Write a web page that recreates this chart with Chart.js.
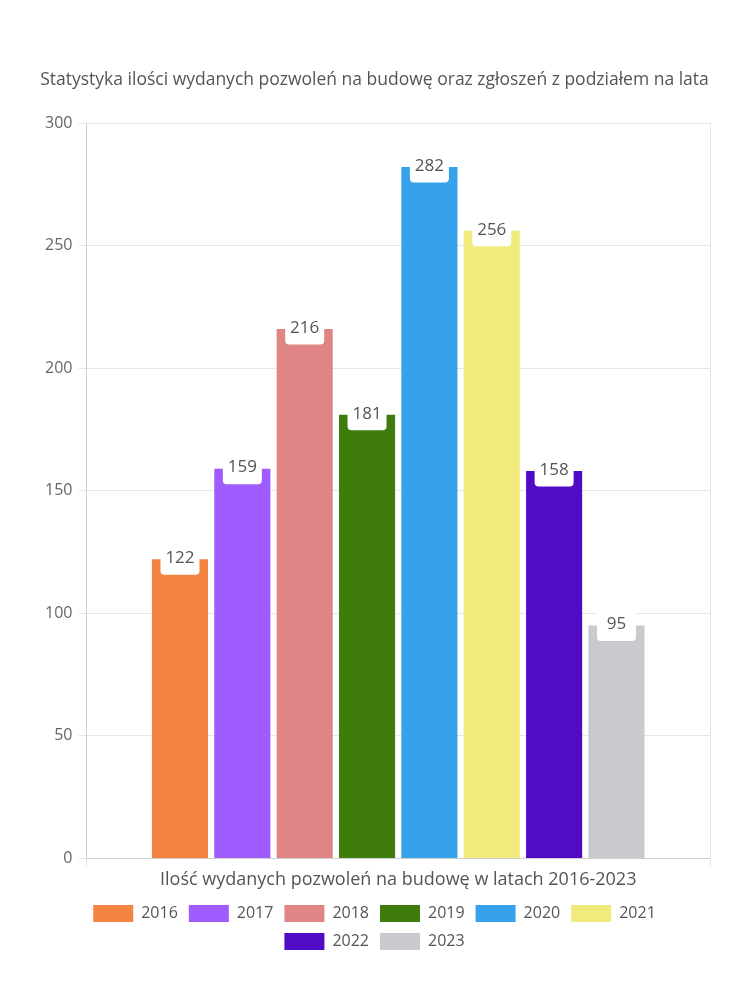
<!DOCTYPE html>
<html>
<head>
<meta charset="utf-8">
<script src="https://cdn.jsdelivr.net/npm/chart.js@4"></script>
<style>
  html,body{margin:0;padding:0;background:#fff}
  #wrap{width:750px;height:1000px}
</style>
</head>
<body>
<div id="wrap"><canvas id="c"></canvas></div>
<script>
const categories = ['Ilość wydanych pozwoleń na budowę w latach 2016-2023'];
const years = ['2016','2017','2018','2019','2020','2021','2022','2023'];
const values = [122, 159, 216, 181, 282, 256, 158, 95];
const colors = ['#f58442','#a05cff','#e08585','#3e7d0c','#36a2eb','#f0eb7c','#510bc4','#c9cacf'];
const yTicks = [0, 50, 100, 150, 200, 250, 300];

const FONT = "'Open Sans', sans-serif";

// étiquettes blanches au sommet des barres
const topLabels = {
  id:'topLabels',
  afterDatasetsDraw(chart){
    const ctx = chart.ctx;
    ctx.save();
    chart.data.datasets.forEach((ds,i)=>{
      const meta = chart.getDatasetMeta(i);
      if(meta.hidden) return;
      meta.data.forEach((bar,j)=>{
        const txt = String(ds.data[j]);
        ctx.font = "17px " + FONT;
        const w = 39, h = 31;
        const x = bar.x - w/2, y = bar.y - h/2;
        ctx.fillStyle = '#fff';
        ctx.beginPath();
        ctx.roundRect(x, y, w, h, 4);
        ctx.fill();
        ctx.fillStyle = '#555';
        ctx.textAlign = 'center';
        ctx.textBaseline = 'middle';
        ctx.fillText(txt, bar.x, bar.y - 1);
      });
    });
    ctx.restore();
  }
};

new Chart(document.getElementById('c'), {
  type:'bar',
  data:{
    labels: categories,
    datasets: years.map((y,i)=>({ label:y, data:[values[i]], backgroundColor:colors[i], borderWidth:0 }))
  },
  options:{
    responsive:true, maintainAspectRatio:false, animation:false,
    layout:{ padding:{ left:39, right:40, top:70, bottom:40 } },
    plugins:{
      title:{ display:true, text:'Statystyka ilości wydanych pozwoleń na budowę oraz zgłoszeń z podziałem na lata',
        color:'#555', font:{ family:FONT, size:17.5, weight:'normal' }, padding:{ top:0, bottom:32 } },
      legend:{ position:'bottom', labels:{ boxWidth:40, boxHeight:17, color:'#555', font:{ family:FONT, size:16 }, padding:11 } },
      tooltip:{ enabled:false }
    },
    scales:{
      x:{ grid:{ color:'#e6e6e6' }, ticks:{ color:'#555', font:{ family:FONT, size:18 } } },
      y:{ min:0, max:300, afterBuildTicks:(ax)=>{ ax.ticks = yTicks.map(v=>({value:v})); },
          grid:{ color:'#e6e6e6' }, ticks:{ color:'#666', padding:6, font:{ family:FONT, size:16 } } }
    }
  },
  plugins:[topLabels]
});
</script>
</body>
</html>
